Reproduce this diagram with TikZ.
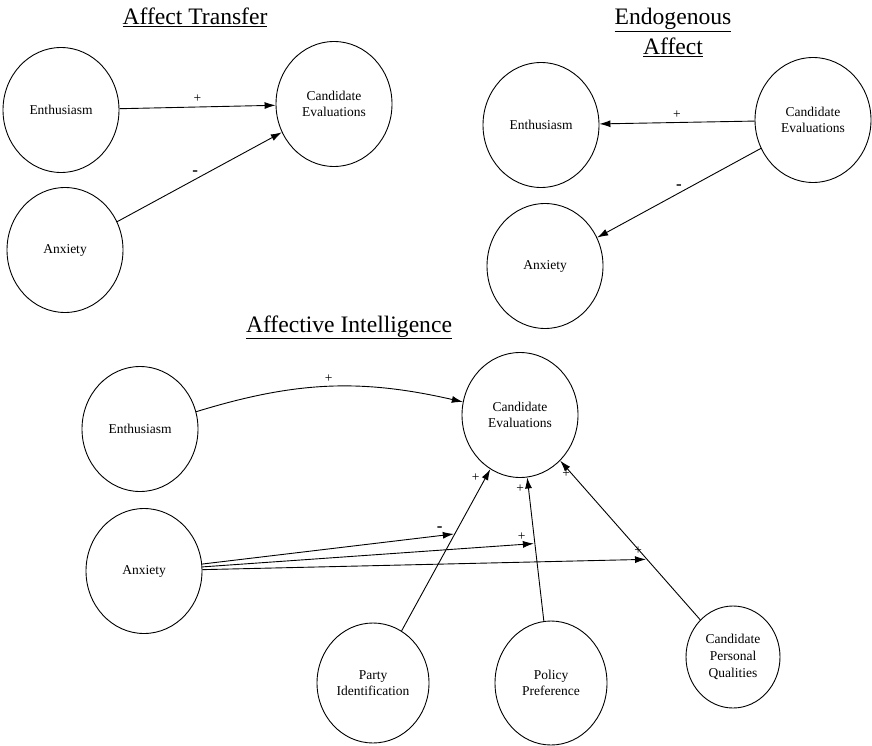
\documentclass[tikz,border=0pt]{standalone}
\usepackage{fontspec}
\setmainfont{Liberation Serif}
\usetikzlibrary{shapes.geometric,arrows.meta}
\begin{document}
\begin{tikzpicture}[x=1pt,y=-1pt,
    var/.style={draw,ellipse,line width=0.9pt,minimum width=116pt,minimum height=125pt,
        inner sep=0pt,align=center,font=\fontsize{13.5}{16.7}\selectfont},
    arr/.style={line width=0.9pt,-{Latex[length=11pt,width=7pt]}},
    sgn/.style={font=\fontsize{13.5}{16}\selectfont,inner sep=1pt},
    neg/.style={font=\fontsize{17}{18}\bfseries,inner sep=1pt},
    ttl/.style={font=\fontsize{23.6}{30}\selectfont,align=center}]
    \useasboundingbox (0,0) rectangle (872,746);
    % affect transfer
    \node[ttl,anchor=base] (ttlA) at (195,25) {\underline{Affect Transfer}};
    \node[var] (enA) at (61,110) {Enthusiasm};
    \node[var] (ceA) at (334,104) {Candidate\\Evaluations};
    \node[var] (anA) at (65,250) {Anxiety};
    \draw[arr] (enA) -- node[sgn,above=3pt] {+} (ceA);
    \draw[arr] (anA) -- node[neg,above left=0pt] {-} (ceA);
    % endogenous affect
    \node[ttl,anchor=base] (ttlB) at (673,55) {\underline{Endogenous}\\\underline{Affect}};
    \node[var] (enB) at (541,125) {Enthusiasm};
    \node[var] (ceB) at (813,120) {Candidate\\Evaluations};
    \node[var] (anB) at (545,266) {Anxiety};
    \draw[arr] (ceB) -- node[sgn,above=3pt] {+} (enB);
    \draw[arr] (ceB) -- node[neg,above=2pt] {-} (anB);
    % affective intelligence
    \node[ttl,anchor=base] (ttlC) at (349,332) {\underline{Affective Intelligence}};
    \node[var] (enC) at (140,429) {Enthusiasm};
    \node[var] (ceC) at (520,415) {Candidate\\Evaluations};
    \node[var] (anC) at (144,571) {Anxiety};
    \node[var,minimum width=112pt,minimum height=120pt] (party) at (373,683) {Party\\Identification};
    \node[var,minimum width=112pt,minimum height=124pt] (policy) at (551,683) {Policy\\Preference};
    \node[var,minimum width=94pt,minimum height=102pt] (qual) at (733,657) {Candidate\\Personal\\Qualities};
    \draw[arr] (enC) to[bend left=15] node[sgn,above=3pt] {+} (ceC);
    \draw[arr] (party) -- node[sgn,pos=0.95,left=5pt] {+} coordinate[pos=0.6] (mParty) (ceC);
    \draw[arr] (policy) -- node[sgn,pos=0.92,left=3pt] {+} coordinate[pos=0.54] (mPolicy) (ceC);
    \draw[arr] (qual) -- node[sgn,pos=0.92,left=0pt] {+} coordinate[pos=0.38] (mQual) (ceC);
    \draw[arr,shorten >=1pt] (anC) -- node[neg,pos=0.94,above=3pt] {-} (mParty);
    \draw[arr,shorten >=1pt] (anC) -- node[sgn,pos=0.96,above=3pt] {+} (mPolicy);
    \draw[arr,shorten >=1pt] (anC) -- node[sgn,pos=0.98,above=4pt] {+} (mQual);
\end{tikzpicture}
\end{document}
